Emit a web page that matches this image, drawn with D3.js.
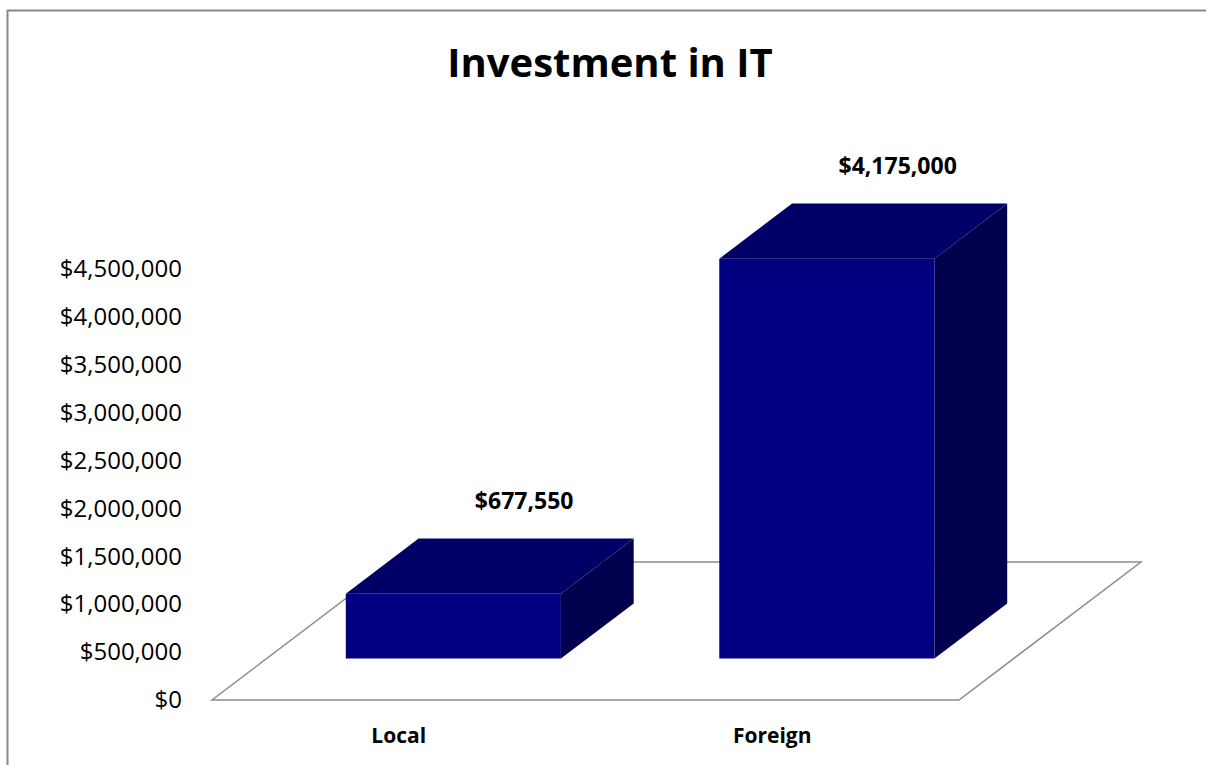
<html lang="en">
<head>
    <meta charset="UTF-8">
    <title>Investment in IT</title>
    <script src="https://d3js.org/d3.v7.min.js"></script>
    <style>
        body { margin: 0; background: #fff; }
        text { font-family: "Open Sans", "Noto Sans", sans-serif; }
    </style>
</head>
<body>
    <script>
        // data
        var categories = ["Local", "Foreign"]
        var values = [677550, 4175000]
        var valueLabels = ["$677,550", "$4,175,000"]
        var yTicks = [0, 500000, 1000000, 1500000, 2000000, 2500000, 3000000, 3500000, 4000000, 4500000]
        var title = "Investment in IT"

        var width = 1206
        var height = 765
        var svg = d3.select('body').append('svg')
            .attr('width', width)
            .attr('height', height)

        // chart border (runs off the right and bottom of the picture)
        svg.append('rect')
            .attr('x', 7.5).attr('y', 10.5)
            .attr('width', width + 20).attr('height', height + 20)
            .attr('fill', 'none')
            .attr('stroke', '#888')
            .attr('stroke-width', 2)

        svg.append('text')
            .attr('x', 610).attr('y', 77)
            .attr('text-anchor', 'middle')
            .attr('font-size', 40)
            .attr('font-weight', 'bold')
            .text(title)

        // front plane of the floor, depth vector goes back and to the right
        var x = d3.scaleBand().domain(categories).range([212, 959])
        var y = d3.scaleLinear().domain([0, 4500000]).range([700, 269])
        var depthX = 182, depthY = -138
        var d0 = 0.3, d1 = 0.7   // bars sit in the middle of the floor
        var barW = x.bandwidth() * 0.576

        // floor
        var floor = [[212, y(0)], [959, y(0)], [959 + depthX, y(0) + depthY], [212 + depthX, y(0) + depthY]]
        svg.append('path')
            .attr('d', d3.line()(floor) + 'Z')
            .attr('fill', '#fff')
            .attr('stroke', '#8c8c8c')
            .attr('stroke-width', 1.5)

        // y axis labels, no line
        var yAxis = d3.axisLeft(y).tickValues(yTicks).tickSize(0).tickPadding(0).tickFormat(d3.format("$,"))
        var ga = svg.append('g').attr('transform', 'translate(182,0)').call(yAxis)
        ga.select('.domain').remove()
        ga.selectAll('text')
            .attr('font-family', '"Open Sans", sans-serif')
            .attr('font-size', 24)
            .attr('fill', '#000')

        function pt(px, py, d) { return [px + d * depthX, py + d * depthY] }

        categories.forEach(function(c, i) {
            var left = x(c) + (x.bandwidth() - barW) / 2
            var right = left + barW
            var top = y(values[i]), bottom = y(0)
            var front = [pt(left, top, d0), pt(right, top, d0), pt(right, bottom, d0), pt(left, bottom, d0)]
            var topFace = [pt(left, top, d0), pt(right, top, d0), pt(right, top, d1), pt(left, top, d1)]
            var side = [pt(right, top, d0), pt(right, top, d1), pt(right, bottom, d1), pt(right, bottom, d0)]
            svg.append('path').attr('d', d3.line()(side) + 'Z').attr('fill', '#00004f')
            svg.append('path').attr('d', d3.line()(topFace) + 'Z').attr('fill', '#000066')
            svg.append('path').attr('d', d3.line()(front) + 'Z').attr('fill', '#000080')

            var lbl = pt(left + barW / 2, top, d1)
            svg.append('text')
                .attr('x', lbl[0] - 2).attr('y', lbl[1] - 30)
                .attr('text-anchor', 'middle')
                .attr('font-size', 23)
                .attr('font-weight', 'bold')
                .text(valueLabels[i])

            svg.append('text')
                .attr('x', x(c) + x.bandwidth() / 2).attr('y', 743)
                .attr('text-anchor', 'middle')
                .attr('font-size', 21)
                .attr('font-weight', 'bold')
                .text(c)
        })
    </script>
</body>
</html>
